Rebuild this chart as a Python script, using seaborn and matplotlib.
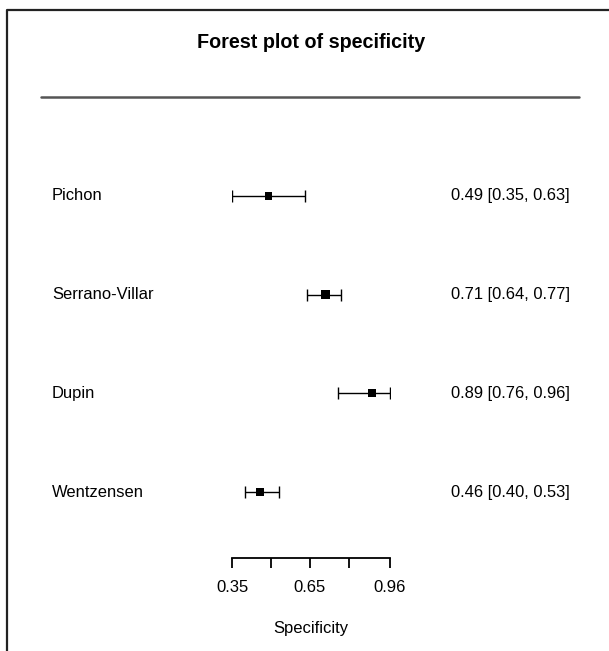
"""
Forest plot of specificity, R/metafor look-alike
"""

import matplotlib

matplotlib.use("Agg")
import matplotlib.pyplot as plt
import matplotlib.transforms as mtransforms
from matplotlib.lines import Line2D
import pandas as pd
import seaborn as sns

# data
studies = ["Pichon", "Serrano-Villar", "Dupin", "Wentzensen"]
estimate = [0.49, 0.71, 0.89, 0.46]
ci_low = [0.35, 0.64, 0.76, 0.40]
ci_high = [0.63, 0.77, 0.96, 0.53]
x_ticks = [0.35, 0.50, 0.65, 0.80, 0.96]
x_tick_labels = ["0.35", "", "0.65", "", "0.96"]

TITLE = "Forest plot of specificity"
XLABEL = "Specificity"

# layout (pixels of the 609x651 canvas)
W, H = 609, 651
AX_LEFT, AX_RIGHT = 232, 390
AX_BOTTOM, AX_TOP = 558, 150
marker_px = [7.5, 9, 8, 8]

sns.set_style("white")
plt.rcParams["font.family"] = ["Liberation Sans", "DejaVu Sans"]
plt.rcParams["text.color"] = "black"
plt.rcParams["xtick.color"] = "black"
plt.rcParams["xtick.labelcolor"] = "black"

df = pd.DataFrame(
    {
        "study": studies,
        "est": estimate,
        "lo": ci_low,
        "hi": ci_high,
        "row": range(len(studies)),
    }
)

fig = plt.figure(figsize=(W / 100, H / 100), dpi=100)
ax = fig.add_axes(
    [
        AX_LEFT / W,
        (H - AX_BOTTOM) / H,
        (AX_RIGHT - AX_LEFT) / W,
        (AX_BOTTOM - AX_TOP) / H,
    ]
)
ax.patch.set_alpha(0)

# confidence intervals
ax.errorbar(
    df["est"],
    df["row"],
    xerr=[df["est"] - df["lo"], df["hi"] - df["est"]],
    fmt="none",
    ecolor="black",
    elinewidth=1.0,
    capsize=4.3,
    capthick=1.0,
    zorder=2,
)

# point estimates
size_map = {s: (px * 0.72) ** 2 for s, px in zip(studies, marker_px)}
sns.scatterplot(
    data=df,
    x="est",
    y="row",
    size="study",
    sizes=size_map,
    marker="s",
    color="black",
    edgecolor="black",
    linewidth=0,
    legend=False,
    ax=ax,
    zorder=3,
)

# row spacing ~98.7 px, first row at y=196
step = 98.67
ax.set_ylim(3 + (AX_BOTTOM - 492) / step, -(196 - AX_TOP) / step)
ax.set_xlim(x_ticks[0], x_ticks[-1])

for side in ["top", "left", "right"]:
    ax.spines[side].set_visible(False)
ax.spines["bottom"].set_linewidth(1.3)
ax.spines["bottom"].set_color("black")
ax.set_yticks([])
ax.set_xticks(x_ticks)
ax.set_xticklabels(x_tick_labels, fontsize=12)
ax.tick_params(
    axis="x", direction="out", length=7.2, width=1.3, color="black", pad=8.5,
    bottom=True, labelcolor="black",
)
ax.set_xlabel("")
ax.set_ylabel("")

# study labels and estimate text
trans = mtransforms.blended_transform_factory(fig.transFigure, ax.transData)
for _, r in df.iterrows():
    ax.text(52 / W, r["row"], r["study"], transform=trans, fontsize=11.9,
            ha="left", va="center", clip_on=False, color="black")
    ax.text(
        451 / W,
        r["row"],
        f"{r['est']:.2f} [{r['lo']:.2f}, {r['hi']:.2f}]",
        transform=trans,
        fontsize=11.9,
        ha="left",
        va="center",
        clip_on=False,
        color="black",
    )

fig.text(311.5 / W, 1 - 42 / H, TITLE, fontsize=14.2, fontweight="bold",
         ha="center", va="center", color="black")
fig.text(311 / W, 1 - 628 / H, XLABEL, fontsize=12, ha="center", va="center",
         color="black")

# header rule
fig.add_artist(Line2D([41 / W, 579 / W], [1 - 97 / H, 1 - 97 / H],
                      color="#555555", linewidth=1.8))

# frame on the left and top
fig.add_artist(Line2D([7 / W, 7 / W, 1.0], [0.0, 1 - 10 / H, 1 - 10 / H],
                      color="#222222", linewidth=1.6))

fig.savefig("out.png", dpi=100)
